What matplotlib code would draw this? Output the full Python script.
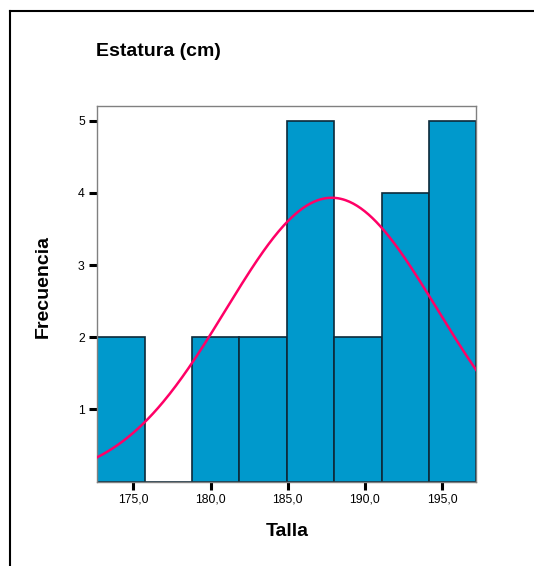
import numpy as np
import matplotlib
matplotlib.use("Agg")
import matplotlib.pyplot as plt
from matplotlib.lines import Line2D

# Histograma de la talla con curva normal ajustada
bin_edges = [172.66, 175.73, 178.80, 181.87, 184.94, 188.01, 191.08, 194.15, 197.22]
counts = [2, 0, 2, 2, 5, 2, 4, 5]
media = 187.85
desv = 6.85
n_total = sum(counts)

plt.rcParams['font.family'] = ['Liberation Sans', 'DejaVu Sans']

fig = plt.figure(figsize=(5.34, 5.66), dpi=100)
ax = fig.add_axes([97.3 / 534, 1 - 481.5 / 566, (476.3 - 97.3) / 534, (481.5 - 105.7) / 566])

lefts = bin_edges[:-1]
widths = np.diff(bin_edges)
ax.bar(lefts, counts, width=widths, align='edge', color='#0099cc',
       edgecolor='#0d2a3a', linewidth=1.2, zorder=2)

xs = np.linspace(bin_edges[0], bin_edges[-1], 300)
ancho = widths.mean()
ys = n_total * ancho / (desv * np.sqrt(2 * np.pi)) * np.exp(-0.5 * ((xs - media) / desv) ** 2)
ax.plot(xs, ys, color='#ff0066', linewidth=1.8, zorder=3)

ax.set_xlim(bin_edges[0], bin_edges[-1])
ax.set_ylim(0, 5.21)
ax.set_yticks([1, 2, 3, 4, 5])
ax.set_xticks([175, 180, 185, 190, 195])
ax.set_xticklabels(['175,0', '180,0', '185,0', '190,0', '195,0'])
ax.tick_params(axis='both', direction='out', length=6, width=2.2, color='black',
               labelsize=8.8, pad=3)
for s in ax.spines.values():
    s.set_color('#808080')
    s.set_linewidth(1.0)

ax.set_xlabel('Talla', fontsize=14, fontweight='bold', labelpad=12)
ax.set_ylabel('Frecuencia', fontsize=14, fontweight='bold')
ax.yaxis.set_label_coords(-0.12, 0.52)
fig.text(96 / 534, 1 - 52 / 566, 'Estatura (cm)', fontsize=14, fontweight='bold',
         ha='left', va='center')

# marco exterior
fig.add_artist(Line2D([9.5 / 534, 9.5 / 534], [0, 1 - 11 / 566], color='black',
                      linewidth=1.5, transform=fig.transFigure))
fig.add_artist(Line2D([9.5 / 534, 1], [1 - 11 / 566, 1 - 11 / 566], color='black',
                      linewidth=1.5, transform=fig.transFigure))

fig.savefig('out.png', dpi=100)
